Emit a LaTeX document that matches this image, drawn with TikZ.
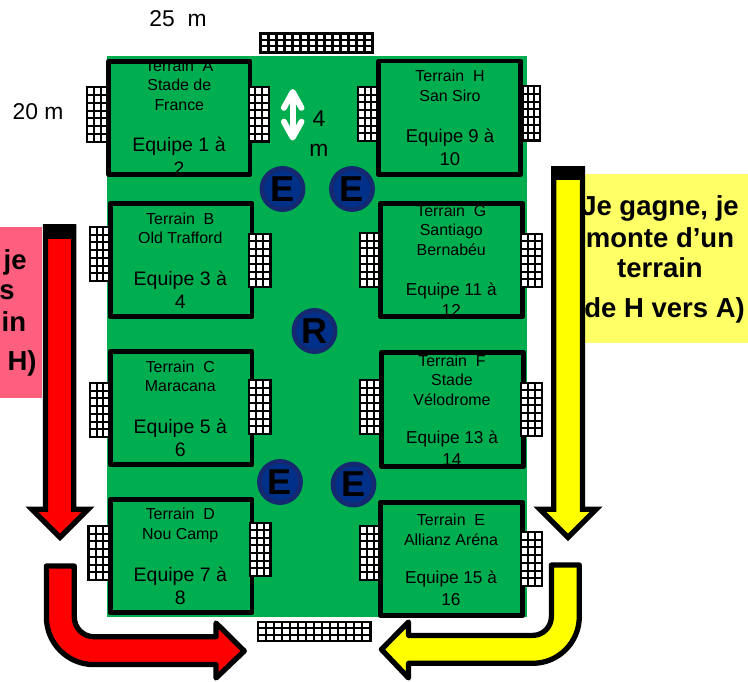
\documentclass[tikz,border=0pt]{standalone}
\usepackage{fontspec}
\setmainfont{Liberation Sans}
\usetikzlibrary{arrows.meta}

\definecolor{fieldgreen}{HTML}{00AE50}
\definecolor{paleyellow}{HTML}{FFFF66}
\definecolor{palered}{HTML}{FF5F7F}
\definecolor{ringblue}{HTML}{14296F}
\definecolor{discblue}{HTML}{003087}
\definecolor{arrowyellow}{HTML}{FFFF00}
\definecolor{arrowred}{HTML}{FF0000}

% x1, y1, x2, y2, columns, rows
\newcommand{\goalnet}[6]{
    \draw[net] (#1,#2) rectangle (#3,#4);
    \foreach \i in {1,...,#5} {
        \draw[net] ({#1+(#3-#1)*\i/#5},#2) -- ({#1+(#3-#1)*\i/#5},#4);
    }
    \foreach \j in {1,...,#6} {
        \draw[net] (#1,{#2+(#4-#2)*\j/#6}) -- (#3,{#2+(#4-#2)*\j/#6});
    }
}

\begin{document}
\begin{tikzpicture}[
            x = 0.02cm, % one reference pixel
            y = -0.02cm,
            font = \fontsize{13}{17}\selectfont
        ]

        \tikzstyle{net}=[draw = black, fill = white, line width = 1.15pt]
        \tikzstyle{terrainbox}=[draw = black, line width = 2.7pt, line join = round]
        \tikzstyle{titletext}=[align = center, anchor = base, inner sep = 0pt,
            font = \fontsize{9.07}{11.05}\selectfont]
        \tikzstyle{teamtext}=[align = center, anchor = base, inner sep = 0pt,
            font = \fontsize{11.1}{13.2}\selectfont]
        \tikzstyle{teamsmall}=[align = center, anchor = base, inner sep = 0pt,
            font = \fontsize{9.8}{12.3}\selectfont]
        \tikzstyle{boldtext}=[align = center, inner sep = 0pt,
            font = \fontsize{15.65}{17}\selectfont\bfseries]
        \tikzstyle{refereedisc}=[circle, draw = ringblue, fill = discblue, line width = 2.6pt,
            minimum size = 23.5pt, inner sep = 0pt, text = black,
            font = \fontsize{20.5}{20.5}\selectfont\bfseries]
        \tikzstyle{flowarrow}=[draw = black, line width = 3pt, miter limit = 10]
        \tikzstyle{bentarrow}=[flowarrow, line join = round]

        \useasboundingbox (0,0) rectangle (748,681);

        \fill[fieldgreen] (107,56) rectangle (527,617);
        \fill[paleyellow] (585,174) rectangle (748,343);
        \fill[palered] (0,227) rectangle (42,398);

        \node (width) at (178,19) {25\ \ m};
        \node (height) at (38,112) {20 m};
        \node[align = center, inner sep = 0pt] (gap) at (319,134) {4\\m};

        % nets on the outer side, under the terrain border
        \goalnet{87}{87}{108}{142}{3}{7}
        \goalnet{90}{227}{110}{281}{3}{7}
        \goalnet{90}{383}{110}{437}{3}{7}
        \goalnet{88.5}{526}{110}{580}{3}{7}
        \goalnet{358}{87}{378}{141}{3}{7}
        \goalnet{360}{233}{381}{287}{3}{7}
        \goalnet{360}{380}{381}{434}{3}{7}
        \goalnet{360}{526}{381}{580}{3}{7}
        \goalnet{260.5}{33.5}{372.5}{52.5}{14}{3}
        \goalnet{258}{622}{370.5}{641}{14}{3}

        \node[titletext] (titleA) at (179.3,110) {Terrain\ \ A\\Stade de\\France};
        \node[titletext] (titleB) at (180.3,243.5) {Terrain\ \ B\\Old Trafford};
        \node[titletext] (titleC) at (180.3,391.7) {Terrain\ \ C\\Maracana};
        \node[titletext] (titleD) at (180.3,539) {Terrain\ \ D\\Nou Camp};
        \node[titletext] (titleH) at (450,101) {Terrain\ \ H\\San Siro};
        \node[titletext] (titleG) at (451.3,255.3) {Terrain\ \ G\\Santiago\\Bernabéu};
        \node[titletext] (titleF) at (452,405) {Terrain\ \ F\\Stade\\Vélodrome};
        \node[titletext] (titleE) at (451,545) {Terrain\ \ E\\Allianz Aréna};

        \node[teamtext] (teamA) at (179,175) {Equipe 1 à\\2};
        \node[teamtext] (teamB) at (180.3,308.3) {Equipe 3 à\\4};
        \node[teamtext] (teamC) at (180.3,456.7) {Equipe 5 à\\6};
        \node[teamtext] (teamD) at (180.3,604.3) {Equipe 7 à\\8};
        \node[teamtext, font = \fontsize{10.5}{12.8}\selectfont] (teamH) at (450,165) {Equipe 9 à\\10};
        \node[teamsmall] (teamG) at (451.3,316.7) {Equipe 11 à\\12};
        \node[teamsmall] (teamF) at (452,465) {Equipe 13 à\\14};
        \node[teamsmall] (teamE) at (451,605) {Equipe 15 à\\16};

        \draw[terrainbox] (108.4,61.4) rectangle (250,174.4);
        \draw[terrainbox] (110.4,203.4) rectangle (252,316.7);
        \draw[terrainbox] (110.4,351.4) rectangle (252,464.7);
        \draw[terrainbox] (110.4,499.4) rectangle (252,612.7);
        \draw[terrainbox] (378.7,61) rectangle (520.7,174.4);
        \draw[terrainbox] (380.4,203.4) rectangle (522.7,316.7);
        \draw[terrainbox] (381.4,352.4) rectangle (523.7,466.4);
        \draw[terrainbox] (380.4,502.4) rectangle (522.7,615.7);

        % nets on the inner side, over the terrain border
        \goalnet{248.7}{87}{269}{141.5}{3}{7}
        \goalnet{249}{233.5}{270.5}{287}{3}{7}
        \goalnet{249}{380}{270.5}{434}{3}{7}
        \goalnet{250}{522.5}{270.5}{576}{3}{7}
        \goalnet{522.5}{86}{540}{140.5}{3}{7}
        \goalnet{521}{233.5}{542}{287}{3}{7}
        \goalnet{521}{382.5}{542}{436}{3}{7}
        \goalnet{521}{532}{542}{586}{3}{7}

        \coordinate (gaptop) at (292.7,89);
        \coordinate (gapbottom) at (292.7,140.5);
        \draw[white, line width = 3.4pt, line cap = round,
            {Straight Barb[length=9pt,width=10pt,round]}-{Straight Barb[length=9pt,width=10pt,round]}]
            (gaptop) -- (gapbottom);

        \node[refereedisc] (discNW) at (282.5,189) {E};
        \node[refereedisc] (discNE) at (352,189) {E};
        \node[refereedisc] (discR) at (314.5,331) {R};
        \node[refereedisc] (discSW) at (280,482) {E};
        \node[refereedisc] (discSE) at (353.5,484.5) {E};

        \node[boldtext] (wina) at (660,208) {Je gagne, je};
        \node[boldtext] (winb) at (660,238) {monte d’un};
        \node[boldtext] (winc) at (660,268) {terrain};
        \node[boldtext] (wind) at (660,310) {(de H vers A)};
        \node[boldtext, anchor = east] (losea) at (27,262) {je};
        \node[boldtext, anchor = east] (loseb) at (15,292) {s};
        \node[boldtext, anchor = east] (losec) at (26.5,322) {in};
        \node[boldtext, anchor = east] (losed) at (37,363) {H)};

        % straight arrows
        \draw[flowarrow, fill = arrowred] (45.6,227) -- (73.7,227) -- (73.7,509.3) -- (88,509.3)
            -- (60,537.3) -- (32,509.3) -- (45.6,509.3) -- cycle;
        \fill[black] (43,224.3) rectangle (76.3,238.7);
        \draw[flowarrow, fill = arrowyellow] (553.7,169) -- (582.4,169) -- (582.4,509.3) -- (596,509.3)
            -- (568,537.3) -- (540,509.3) -- (553.7,509.3) -- cycle;
        \fill[black] (551,166) rectangle (585,180);

        % bent arrows
        \draw[bentarrow, fill = arrowred] (46.4,566) -- (74.3,566) -- (74.3,617.1)
            .. controls (74.3,627.9) and (83.1,636.7) .. (93.9,636.7)
            -- (216,636.7) -- (216,623) -- (244.3,651) -- (216,678) -- (216,664.6) -- (93.9,664.6)
            .. controls (67.7,664.6) and (46.4,643.3) .. (46.4,617.1) -- cycle;
        \draw[bentarrow, fill = arrowyellow] (579.3,565) -- (551.4,565) -- (551.4,616.7)
            .. controls (551.4,627) and (543,635.4) .. (532.7,635.4)
            -- (408.6,635.4) -- (408.6,622) -- (381.4,649.4) -- (408.6,678) -- (408.6,663.3) -- (532.7,663.3)
            .. controls (558.4,663.3) and (579.3,642.4) .. (579.3,616.7) -- cycle;

    \end{tikzpicture}
\end{document}
